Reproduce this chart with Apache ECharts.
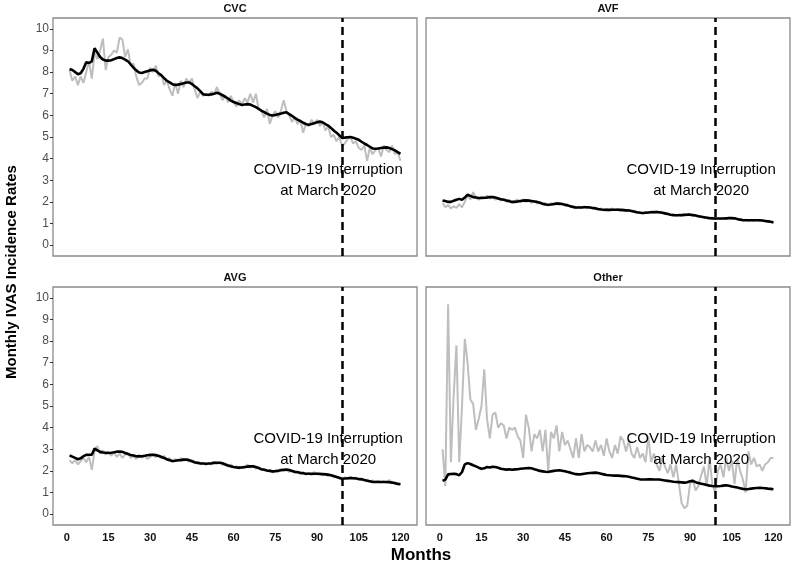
<!DOCTYPE html>
<html><head><meta charset="utf-8">
<script src="https://cdn.jsdelivr.net/npm/echarts@6/dist/echarts.min.js"></script>
<style>html,body{margin:0;padding:0;background:#fff}#c{width:795px;height:566px}</style>
</head><body><div id="c"></div>
<script>
// ---------- data ----------
const panelNames = ['CVC', 'AVF', 'AVG', 'Other'];

const cvcObserved = [8.1,7.6,7.8,7.4,7.8,7.5,8.0,8.5,7.7,8.9,8.6,9.0,9.55,8.1,8.7,8.8,9.0,8.9,9.6,9.5,
  8.7,9.05,8.3,8.4,7.8,7.4,7.5,7.7,7.7,8.2,8.0,8.3,7.8,7.9,7.4,7.6,7.2,6.9,7.5,7.0,
  7.6,7.3,7.7,7.5,7.7,7.2,6.8,7.1,6.9,7.0,6.9,7.1,7.0,7.3,7.0,6.7,6.9,6.6,6.9,6.6,
  6.4,6.7,6.5,6.8,6.6,7.0,6.6,7.0,6.3,6.2,5.9,6.3,5.6,6.0,6.2,5.9,6.2,6.7,6.2,6.0,
  5.7,5.9,5.6,5.8,5.2,5.6,5.5,5.8,5.6,5.8,5.5,5.7,5.3,5.5,5.0,5.1,4.8,5.0,4.6,4.7,
  4.9,5.0,4.7,4.8,4.5,4.4,4.6,3.9,4.5,4.2,4.4,4.5,4.1,4.6,4.4,4.3,4.6,4.2,4.3,3.9];
const cvcFitted = [8.14,8.10,8.0,7.9,7.95,8.15,8.45,8.42,8.5,9.1,8.9,8.7,8.58,8.53,8.53,8.55,8.6,8.65,8.68,8.65,
  8.58,8.5,8.35,8.2,8.08,7.98,7.96,8.0,8.04,8.08,8.11,8.06,7.95,7.85,7.72,7.6,7.52,7.44,7.4,7.42,
  7.45,7.48,7.52,7.52,7.45,7.35,7.25,7.12,6.98,6.95,6.95,6.97,7.0,7.04,7.0,6.93,6.86,6.78,6.68,6.62,
  6.57,6.52,6.48,6.5,6.52,6.5,6.44,6.38,6.3,6.22,6.15,6.08,6.02,5.99,6.02,6.05,6.08,6.12,6.14,6.06,
  5.98,5.88,5.8,5.73,5.66,5.6,5.56,5.6,5.64,5.68,5.71,5.68,5.6,5.53,5.42,5.3,5.2,5.08,4.96,4.97,
  4.99,5.0,4.97,4.92,4.87,4.78,4.7,4.63,4.55,4.47,4.46,4.47,4.49,4.51,4.52,4.49,4.44,4.38,4.3,4.22];

const avfObserved = [1.95,1.75,1.85,1.7,1.8,1.72,1.9,1.75,2.0,2.3,2.1,2.45,2.2,2.1,2.25,2.15,2.3,2.15,2.25,2.1,
  2.2,2.05,2.15,2.0,2.1,1.95,2.05,2.1,1.98,2.12,2.0,2.1,1.95,2.05,1.92,2.0,1.88,1.95,1.82,1.95,
  1.85,1.98,1.86,1.92,1.82,1.88,1.75,1.82,1.7,1.78,1.72,1.8,1.7,1.78,1.68,1.75,1.62,1.7,1.6,1.68,
  1.6,1.7,1.62,1.68,1.58,1.66,1.56,1.64,1.55,1.6,1.48,1.55,1.45,1.53,1.48,1.56,1.5,1.56,1.48,1.52,
  1.44,1.48,1.4,1.43,1.36,1.42,1.36,1.43,1.38,1.44,1.36,1.4,1.32,1.35,1.28,1.3,1.24,1.28,1.2,1.25,
  1.21,1.26,1.22,1.27,1.22,1.26,1.18,1.2,1.12,1.18,1.12,1.17,1.13,1.17,1.12,1.15,1.1,1.12,1.07,1.08];
const avfFitted = [2.07,2.04,2.0,2.0,2.05,2.1,2.14,2.1,2.2,2.33,2.28,2.22,2.2,2.18,2.18,2.19,2.2,2.22,2.22,2.2,
  2.16,2.12,2.1,2.07,2.03,2.0,2.0,2.02,2.04,2.06,2.07,2.06,2.04,2.02,2.0,1.96,1.92,1.88,1.87,1.88,
  1.9,1.92,1.92,1.9,1.87,1.84,1.8,1.76,1.74,1.74,1.74,1.75,1.75,1.74,1.72,1.7,1.67,1.65,1.64,1.63,
  1.63,1.64,1.64,1.64,1.63,1.62,1.61,1.6,1.58,1.55,1.52,1.5,1.49,1.5,1.51,1.52,1.53,1.53,1.52,1.5,
  1.47,1.44,1.41,1.39,1.38,1.38,1.39,1.4,1.41,1.41,1.39,1.37,1.34,1.31,1.29,1.27,1.25,1.24,1.23,1.23,
  1.23,1.23,1.24,1.25,1.25,1.24,1.21,1.18,1.16,1.15,1.15,1.15,1.15,1.15,1.15,1.14,1.12,1.1,1.08,1.05];

const avgObserved = [2.5,2.35,2.5,2.3,2.45,2.6,2.4,2.65,2.05,2.9,3.15,2.8,2.95,2.75,2.9,2.7,2.85,2.65,2.8,2.6,
  2.75,2.85,2.6,2.7,2.55,2.75,2.6,2.7,2.55,2.65,2.78,2.62,2.75,2.58,2.7,2.5,2.6,2.4,2.55,2.45,
  2.6,2.48,2.55,2.42,2.5,2.35,2.42,2.3,2.38,2.28,2.35,2.3,2.42,2.32,2.4,2.28,2.35,2.2,2.3,2.15,
  2.22,2.1,2.2,2.12,2.3,2.15,2.25,2.1,2.2,2.05,2.1,1.98,2.05,1.92,2.0,1.95,2.1,1.98,2.05,1.95,
  2.02,1.9,1.98,1.85,1.95,1.82,1.92,1.8,1.95,1.85,1.92,1.8,1.88,1.75,1.82,1.7,1.75,1.65,1.6,1.7,
  1.62,1.72,1.65,1.7,1.58,1.66,1.55,1.6,1.5,1.56,1.5,1.55,1.47,1.52,1.45,1.58,1.45,1.48,1.4,1.42];
const avgFitted = [2.72,2.66,2.6,2.54,2.58,2.68,2.74,2.75,2.75,3.03,2.95,2.88,2.85,2.84,2.83,2.84,2.86,2.89,2.9,2.88,
  2.83,2.78,2.74,2.71,2.68,2.67,2.68,2.7,2.72,2.74,2.75,2.73,2.69,2.65,2.6,2.54,2.49,2.46,2.47,2.49,
  2.5,2.52,2.52,2.5,2.45,2.4,2.37,2.35,2.34,2.33,2.34,2.35,2.37,2.38,2.38,2.35,2.3,2.25,2.21,2.18,
  2.16,2.15,2.16,2.18,2.2,2.21,2.21,2.18,2.13,2.08,2.05,2.02,2.0,1.98,1.99,2.01,2.03,2.05,2.06,2.04,
  2.0,1.96,1.94,1.91,1.89,1.87,1.87,1.87,1.87,1.87,1.86,1.85,1.84,1.83,1.8,1.76,1.72,1.68,1.64,1.65,
  1.66,1.67,1.66,1.65,1.63,1.61,1.58,1.55,1.52,1.49,1.49,1.49,1.49,1.49,1.49,1.48,1.46,1.43,1.4,1.38];

const otherObserved = [3.0,1.3,9.7,2.4,5.5,7.8,2.4,5.0,8.1,7.0,5.3,5.1,3.9,4.4,5.0,6.7,4.4,3.5,4.6,4.7,
  4.0,4.2,4.1,3.5,4.0,3.9,4.0,3.6,3.4,2.6,4.6,4.0,2.9,3.7,3.5,3.9,2.9,3.9,2.0,3.8,
  3.5,4.1,2.9,3.8,3.2,3.4,3.0,2.6,3.5,2.6,3.7,2.9,3.2,3.1,2.9,3.4,2.9,3.2,2.7,3.5,
  2.9,2.6,3.2,2.8,3.6,3.4,2.9,3.4,2.8,2.6,3.1,2.6,2.8,2.4,3.6,2.4,2.8,2.3,2.0,2.6,
  2.2,1.9,2.3,1.7,2.3,1.4,0.5,0.27,0.4,1.4,1.6,1.1,1.3,1.8,2.2,1.3,2.6,1.4,1.0,2.0,
  2.3,1.7,2.6,2.0,2.5,1.4,2.6,2.0,1.6,1.0,2.9,2.3,2.6,2.2,2.3,2.0,2.3,2.4,2.6,2.6];
const otherFitted = [1.54,1.6,1.84,1.86,1.87,1.85,1.8,1.95,2.3,2.36,2.32,2.26,2.21,2.15,2.1,2.12,2.18,2.16,2.19,2.18,
  2.15,2.1,2.08,2.06,2.08,2.05,2.07,2.08,2.1,2.11,2.12,2.13,2.12,2.08,2.04,2.0,1.98,1.96,1.95,1.98,
  2.0,2.02,2.03,2.01,1.98,1.95,1.92,1.88,1.85,1.84,1.85,1.87,1.89,1.9,1.91,1.92,1.9,1.87,1.84,1.81,
  1.8,1.79,1.78,1.78,1.77,1.76,1.75,1.73,1.7,1.67,1.64,1.61,1.6,1.6,1.61,1.61,1.6,1.6,1.6,1.58,
  1.56,1.54,1.52,1.5,1.49,1.48,1.47,1.46,1.48,1.52,1.54,1.48,1.44,1.41,1.38,1.35,1.32,1.3,1.29,1.29,
  1.3,1.32,1.34,1.31,1.28,1.26,1.23,1.2,1.17,1.15,1.16,1.18,1.2,1.21,1.22,1.21,1.2,1.18,1.17,1.15];

const xTickValues = [0, 15, 30, 45, 60, 75, 90, 105, 120];
const yTickValues = [0, 1, 2, 3, 4, 5, 6, 7, 8, 9, 10];
const covidMonth = 99;
const covidText = 'COVID-19 Interruption\nat March 2020';
const covidTextAt = [94, 3];
const xAxisTitle = 'Months';
const yAxisTitle = 'Monthly IVAS Incidence Rates';

// ---------- chart ----------
const observed = [cvcObserved, avfObserved, avgObserved, otherObserved];
const fitted = [cvcFitted, avfFitted, avgFitted, otherFitted];
const months = [];
for (let i = 1; i <= cvcObserved.length; i++) months.push(i);

const FONT = '"Liberation Sans", Arial, Helvetica, sans-serif';
const gridPos = [
  {left: 53, top: 18}, {left: 426, top: 18},
  {left: 53, top: 287}, {left: 426, top: 287}
];
const GW = 364, GH = 238;

const grids = gridPos.map(p => ({
  left: p.left, top: p.top, width: GW, height: GH,
  show: true, borderColor: '#8a8a8a', borderWidth: 1.3, backgroundColor: '#fff',
  containLabel: false
}));

const xAxes = gridPos.map((p, i) => ({
  type: 'value', gridIndex: i, min: -4.95, max: 125.95, position: 'bottom',
  axisLine: {show: false, onZero: false}, splitLine: {show: false},
  axisTick: {show: false, customValues: xTickValues},
  axisLabel: {
    show: i >= 2, customValues: xTickValues, margin: 7,
    fontFamily: FONT, fontSize: 11, fontWeight: 'bold', color: '#111'
  }
}));

const yAxes = gridPos.map((p, i) => ({
  type: 'value', gridIndex: i, min: -0.5, max: 10.5, position: 'left',
  axisLine: {show: false, onZero: false}, splitLine: {show: false},
  axisTick: {show: i % 2 === 0, customValues: yTickValues, length: 3, lineStyle: {color: '#333', width: 1}},
  axisLabel: {
    show: i % 2 === 0, customValues: yTickValues, margin: 4,
    fontFamily: FONT, fontSize: 12, color: '#4d4d4d'
  }
}));

const series = [];
panelNames.forEach((name, k) => {
  series.push({
    name: name + ' observed', type: 'line', xAxisIndex: k, yAxisIndex: k,
    data: months.map((m, i) => [m, observed[k][i]]),
    symbol: 'none', showSymbol: false, silent: true, z: 2,
    lineStyle: {color: '#bebebe', width: 2}
  });
  series.push({
    type: 'scatter', xAxisIndex: k, yAxisIndex: k, data: [covidTextAt],
    symbolSize: 0, silent: true, z: 3,
    itemStyle: {opacity: 1, color: '#000'},
    label: {
      show: true, position: 'inside', formatter: covidText, opacity: 1,
      fontFamily: FONT, fontSize: 15, lineHeight: 21, color: '#000', align: 'center',
      textBorderWidth: 0
    }
  });
  series.push({
    name: name + ' fitted', type: 'line', xAxisIndex: k, yAxisIndex: k,
    data: months.map((m, i) => [m, fitted[k][i]]),
    symbol: 'none', showSymbol: false, silent: true, z: 4,
    lineStyle: {color: '#000', width: 2.6},
    markLine: {
      symbol: 'none', silent: true, label: {show: false},
      lineStyle: {type: [8, 5], color: '#000', width: 2.5},
      data: [{xAxis: covidMonth}]
    }
  });
});

const titleCenters = [[235, 9], [608, 9], [235, 278], [608, 278]];
const graphics = panelNames.map((n, i) => ({
  type: 'text', x: titleCenters[i][0], y: titleCenters[i][1],
  style: {text: n, font: 'bold 11px ' + FONT, fill: '#111',
    align: 'center', verticalAlign: 'middle', textAlign: 'center', textVerticalAlign: 'middle'}
}));
graphics.push({
  type: 'text', x: 421, y: 555,
  style: {text: xAxisTitle, font: 'bold 17px ' + FONT, fill: '#000',
    align: 'center', verticalAlign: 'middle', textAlign: 'center', textVerticalAlign: 'middle'}
});
graphics.push({
  type: 'text', x: 12, y: 272, rotation: Math.PI / 2,
  style: {text: yAxisTitle, font: 'bold 15px ' + FONT, fill: '#000',
    align: 'center', verticalAlign: 'middle', textAlign: 'center', textVerticalAlign: 'middle'}
});

const chart = echarts.init(document.getElementById('c'), null, {renderer: 'canvas'});
chart.setOption({
  animation: false,
  backgroundColor: '#fff',
  grid: grids, xAxis: xAxes, yAxis: yAxes, series: series,
  graphic: graphics
});
</script>
</body></html>
